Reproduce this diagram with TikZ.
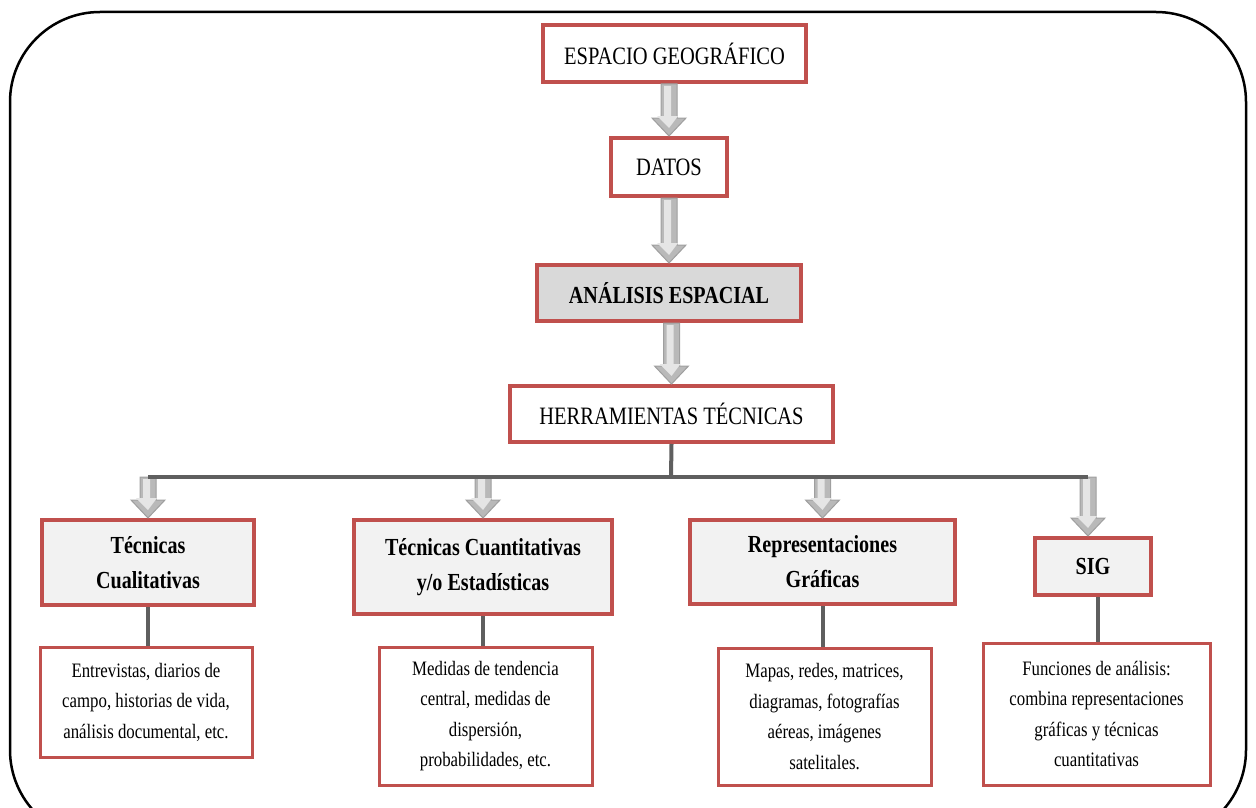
\documentclass[tikz,border=0pt]{standalone}
\usepackage{fontspec}
\setmainfont{Liberation Serif}[FakeStretch=0.82]
\usepackage{xcolor}
\usepackage{tikz}
\usetikzlibrary{positioning,calc}

\definecolor{rojo}{HTML}{C0504D}
\definecolor{grisfondo}{HTML}{D9D9D9}
\definecolor{grisclaro}{HTML}{F2F2F2}
\definecolor{grislinea}{HTML}{5F5F5F}

\tikzset{
  caja/.style={draw=rojo, line width=4pt, fill=white, align=center, inner sep=2pt, font=\fontsize{25}{30}\selectfont},
  cajados/.style={caja, fill=grisclaro, font=\bfseries\fontsize{24.5}{35}\selectfont},
  cajatres/.style={draw=rojo, line width=3pt, fill=white, align=center, inner sep=2pt, font=\fontsize{20.5}{30.5}\selectfont},
  flecha/.style={fill=gray!55, draw=gray!75, line width=1pt},
  brillo/.style={fill=gray!20, draw=none},
  conector/.style={draw=grislinea, line width=4pt}
}

% block arrow from a point down to the top of a box
\newcommand{\flecha}[2]{%
  \path[flecha] let \p1=#1, \p2=#2 in
    (\x2-8pt,\y1) -- (\x2+8pt,\y1) -- (\x2+8pt,\y2+18pt) -- (\x2+17pt,\y2+18pt)
    -- (\x2,\y2) -- (\x2-17pt,\y2+18pt) -- (\x2-8pt,\y2+18pt) -- cycle;
  \path[brillo] let \p1=#1, \p2=#2 in
    (\x2-5pt,\y1-2pt) -- (\x2+2pt,\y1-2pt) -- (\x2+2pt,\y2+20pt) -- (\x2+9pt,\y2+20pt)
    -- (\x2,\y2+8pt) -- (\x2-12pt,\y2+20pt) -- (\x2-5pt,\y2+20pt) -- cycle;}

\begin{document}
\begin{tikzpicture}[x=1pt, y=-1pt]
  \useasboundingbox (0,0) rectangle (1256,808);
  \begin{scope}
    \clip (0,0) rectangle (1256,808);
    \draw[line width=2.5pt, rounded corners=90pt] (10,12) rectangle (1246,840);  % Frame
  \end{scope}

  \node[caja, minimum width=263, minimum height=57] (Espacio) at (674.5,53.5) {ESPACIO GEOGRÁFICO};
  \node[caja, minimum width=116, minimum height=58] (Datos) at (669,167) {DATOS};
  \node[caja, fill=grisfondo, minimum width=264, minimum height=56, font=\bfseries\fontsize{24.5}{30}\selectfont] (Analisis) at (669,293) {ANÁLISIS ESPACIAL};
  \node[caja, minimum width=323, minimum height=56] (Herramientas) at (671.5,414) {HERRAMIENTAS TÉCNICAS};

  % Techniques
  \node[cajados, minimum width=212, minimum height=85] (Cualitativas) at (148,562.5) {Técnicas\\Cualitativas};
  \node[cajados, minimum width=258, minimum height=94] (Cuantitativas) at (483,567) {Técnicas Cuantitativas\\y/o Estadísticas};
  \node[cajados, minimum width=265, minimum height=84] (Graficas) at (822.5,562) {Representaciones\\Gráficas};
  \node[cajados, minimum width=116, minimum height=57] (SIG) at (1093,566.5) {SIG};

  % Descriptions
  \node[cajatres, minimum width=212, minimum height=110] (Cualitativas-txt) at (146,702) {Entrevistas, diarios de\\campo, historias de vida,\\análisis documental, etc.};
  \node[cajatres, minimum width=213, minimum height=138] (Cuantitativas-txt) at (485.5,716) {Medidas de tendencia\\central, medidas de\\dispersión,\\probabilidades, etc.};
  \node[cajatres, minimum width=213, minimum height=137] (Graficas-txt) at (824.5,716.5) {Mapas, redes, matrices,\\diagramas, fotografías\\aéreas, imágenes\\satelitales.};
  \node[cajatres, minimum width=227, minimum height=142] (SIG-txt) at (1096.5,714) {Funciones de análisis:\\combina representaciones\\gráficas y técnicas\\cuantitativas};

  \coordinate (Bus) at (671,477);

  \flecha{(Espacio.south)}{(Datos.north)}
  \flecha{(Datos.south)}{(Analisis.north)}
  \flecha{(Analisis.south)}{(Herramientas.north)}
  \flecha{(Bus)}{(Cualitativas.north)}
  \flecha{(Bus)}{(Cuantitativas.north)}
  \flecha{(Bus)}{(Graficas.north)}
  \flecha{(Bus)}{([xshift=-5pt]SIG.north)}

  \draw[conector] (Herramientas.south) -- (Bus);
  \draw[conector] (Cualitativas.north |- Bus) -- ([xshift=-5pt]SIG.north |- Bus);  % Bus line
  \draw[conector] (Cualitativas.south) -- (Cualitativas.south |- Cualitativas-txt.north);
  \draw[conector] (Cuantitativas.south) -- (Cuantitativas.south |- Cuantitativas-txt.north);
  \draw[conector] (Graficas.south) -- (Graficas.south |- Graficas-txt.north);
  \draw[conector] ([xshift=5pt]SIG.south) -- ([xshift=5pt]SIG.south |- SIG-txt.north);
\end{tikzpicture}
\end{document}
